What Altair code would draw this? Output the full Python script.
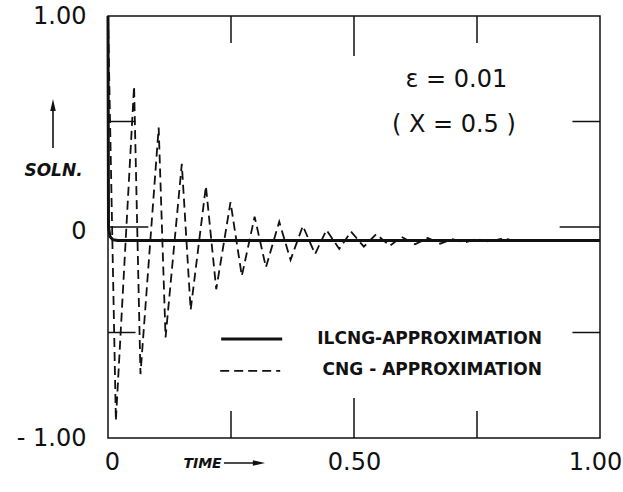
import altair as alt
import pandas as pd

# ---------------- data ----------------
# ILCNG-approximation (solid)
ilcng_t = [0.0, 0.001, 0.004, 0.010, 0.020, 1.0]
ilcng_y = [1.0, 0.0, -0.045, -0.060, -0.064, -0.064]

# CNG-approximation (dashed)
cng_t = [0.0, 0.016, 0.053, 0.066, 0.103, 0.117, 0.150, 0.168, 0.199, 0.220,
         0.249, 0.272, 0.298, 0.321, 0.348, 0.371, 0.396, 0.421, 0.444, 0.470,
         0.494, 0.520, 0.545, 0.573, 0.597, 0.624, 0.650, 0.675, 0.700, 0.726,
         0.749, 0.776, 0.803, 0.830, 0.860, 1.0]
cng_y = [1.0, -0.918, 0.668, -0.697, 0.471, -0.523, 0.299, -0.393, 0.194, -0.295,
         0.118, -0.232, 0.049, -0.191, 0.025, -0.156, 0.005, -0.128, -0.014, -0.104,
         -0.022, -0.093, -0.034, -0.089, -0.047, -0.082, -0.052, -0.079, -0.058, -0.073,
         -0.057, -0.069, -0.054, -0.066, -0.064, -0.064]

x_label_values = [0.0, 0.5, 1.0]
y_label_values = [-1.0, 0.0, 1.0]
x_inner_ticks = [0.25, 0.5, 0.75]
y_inner_ticks = [-0.5, 0.0, 0.5]
legend_labels = ["ILCNG-APPROXIMATION", "CNG - APPROXIMATION"]
annotations = ["ε = 0.01", "( X = 0.5 )"]

# ---------------- styles ----------------
INK = "#111111"
NUM_FONT = "DejaVu Sans"
W, H = 492, 422

solid_df = pd.DataFrame({"t": ilcng_t, "y": ilcng_y})
dash_df = pd.DataFrame({"t": cng_t, "y": cng_y})

xs = alt.Scale(domain=[0, 1], nice=False, zero=False)
ys = alt.Scale(domain=[-1, 1], nice=False, zero=False)

x_axis = alt.Axis(
    values=x_label_values,
    labelExpr="datum.value == 0 ? '0' : datum.value == 0.5 ? '0.50' : '1.00'",
    labelOffset={"condition": [{"test": "datum.value == 1", "value": -5},
                               {"test": "datum.value == 0", "value": 4}], "value": 0},
    ticks=False, domain=False, grid=False, labelFlush=False, labelBound=False,
    labelFont=NUM_FONT, labelFontSize=24, labelColor=INK, labelPadding=12,
    title="TIME", titleFont="DejaVu Sans", titleFontSize=14, titleFontWeight="bold",
    titleFontStyle="italic", titleColor=INK, titleX=94, titleY=25,
    titleAlign="center", titleBaseline="middle",
)
y_axis = alt.Axis(
    values=y_label_values,
    labelExpr="datum.value == 1 ? '1.00' : datum.value == 0 ? '0' : '- 1.00'",
    labelOffset={"condition": {"test": "datum.value == 0", "value": 4}, "value": 0},
    ticks=False, domain=False, grid=False, labelFlush=False, labelBound=False,
    labelFont=NUM_FONT, labelFontSize=24, labelColor=INK, labelPadding=22,
    title="SOLN.", titleFont="DejaVu Sans", titleFontSize=17, titleFontWeight="bold",
    titleFontStyle="italic", titleColor=INK, titleAngle=0, titleX=-55, titleY=154,
    titleAlign="center", titleBaseline="middle",
)

solid = alt.Chart(solid_df).mark_line(color=INK, strokeWidth=3, strokeJoin="round").encode(
    x=alt.X("t:Q", scale=xs, axis=x_axis),
    y=alt.Y("y:Q", scale=ys, axis=y_axis),
)
dashed = alt.Chart(dash_df).mark_line(color=INK, strokeWidth=1.8, strokeDash=[9, 5]).encode(
    x=alt.X("t:Q", scale=xs),
    y=alt.Y("y:Q", scale=ys),
)

# inner ticks on all four sides
tick_rows = []
for v in x_inner_ticks:
    L = 0.19 if v == 0.5 else 0.128
    tick_rows.append({"x1": v, "x2": v, "y1": 1.0, "y2": 1.0 - L})
    tick_rows.append({"x1": v, "x2": v, "y1": -1.0, "y2": -1.0 + L})
for v in y_inner_ticks:
    L = 0.082 if v == 0 else 0.056
    tick_rows.append({"x1": 0.0, "x2": L, "y1": v, "y2": v})
    tick_rows.append({"x1": 1.0 - L, "x2": 1.0, "y1": v, "y2": v})
ticks = alt.Chart(pd.DataFrame(tick_rows)).mark_rule(color=INK, strokeWidth=1.5).encode(
    x=alt.X("x1:Q", scale=xs), x2="x2:Q",
    y=alt.Y("y1:Q", scale=ys), y2="y2:Q",
)

# annotation text
ann_df = pd.DataFrame({"txt": annotations, "t": [0.708, 0.703], "y": [0.697, 0.483]})
ann = alt.Chart(ann_df).mark_text(font=NUM_FONT, fontSize=24, color=INK, align="center",
                                  baseline="middle").encode(
    x=alt.X("t:Q", scale=xs), y=alt.Y("y:Q", scale=ys), text="txt:N")

# legend (drawn inside the plot, as in the reference)
leg_solid = alt.Chart(pd.DataFrame({"a": [0.230], "b": [0.354], "y": [-0.531]})).mark_rule(
    color=INK, strokeWidth=3).encode(x=alt.X("a:Q", scale=xs), x2="b:Q", y=alt.Y("y:Q", scale=ys))
leg_dash = alt.Chart(pd.DataFrame({"a": [0.228], "b": [0.350], "y": [-0.682]})).mark_rule(
    color=INK, strokeWidth=1.8, strokeDash=[9, 5]).encode(
    x=alt.X("a:Q", scale=xs), x2="b:Q", y=alt.Y("y:Q", scale=ys))
leg_text = alt.Chart(pd.DataFrame({"txt": legend_labels, "t": [0.882, 0.882],
                                   "y": [-0.531, -0.680]})).mark_text(
    font="DejaVu Sans", fontSize=17, fontWeight="bold", color=INK, align="right",
    baseline="middle").encode(x=alt.X("t:Q", scale=xs), y=alt.Y("y:Q", scale=ys), text="txt:N")

# axis-title arrows
one = alt.Data(values=[{}])
y_arrow_shaft = alt.Chart(one).mark_rule(color=INK, strokeWidth=1.6).encode(
    x=alt.value(-55), y=alt.value(88), y2=alt.value(132))
y_arrow_head = alt.Chart(one).mark_point(
    shape="M0,-1L0.45,1L-0.45,1Z", filled=True, color=INK, opacity=1, size=150).encode(
    x=alt.value(-55), y=alt.value(89))
x_arrow_shaft = alt.Chart(one).mark_rule(color=INK, strokeWidth=1.6).encode(
    x=alt.value(116), x2=alt.value(152), y=alt.value(447))
x_arrow_head = alt.Chart(one).mark_point(
    shape="M1,0L-1,0.45L-1,-0.45Z", filled=True, color=INK, opacity=1, size=150).encode(
    x=alt.value(151), y=alt.value(447))

chart = alt.layer(
    ticks, dashed, solid, ann, leg_solid, leg_dash, leg_text,
    y_arrow_shaft, y_arrow_head, x_arrow_shaft, x_arrow_head,
).properties(
    width=W, height=H,
    autosize=alt.AutoSizeParams(type="none"),
    padding={"left": 108, "top": 16, "right": 23, "bottom": 54},
    background="white",
).configure_view(stroke=INK, strokeWidth=1.5)

chart.save("out.html", embed_options={"renderer": "svg", "actions": False})
